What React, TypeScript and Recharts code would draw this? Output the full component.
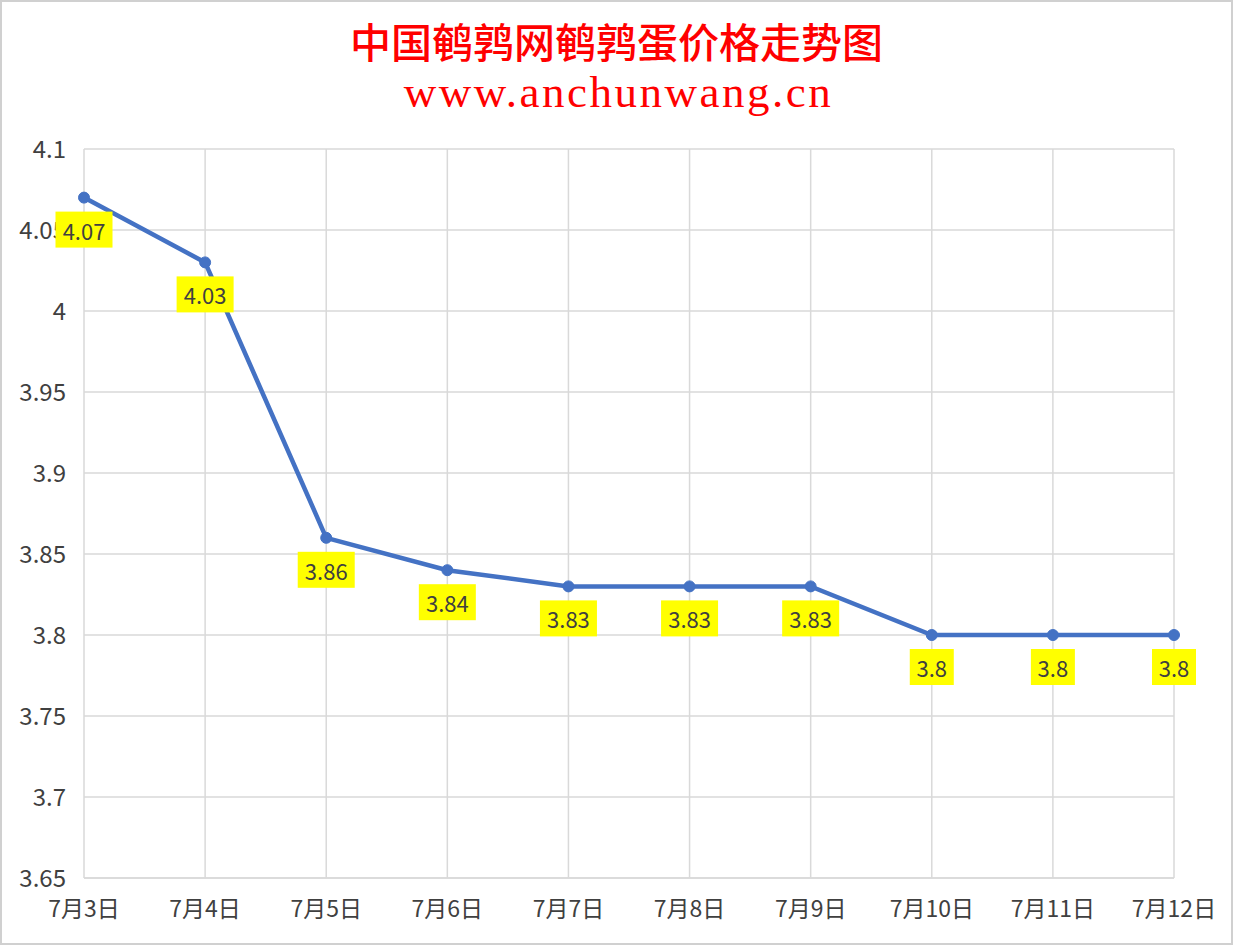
import React from "react";
import { CartesianGrid, Line, LineChart, XAxis, YAxis } from "recharts";

const dates = ["7月3日", "7月4日", "7月5日", "7月6日", "7月7日", "7月8日", "7月9日", "7月10日", "7月11日", "7月12日"];
const prices = [4.07, 4.03, 3.86, 3.84, 3.83, 3.83, 3.83, 3.8, 3.8, 3.8];
const yTicks = [3.65, 3.7, 3.75, 3.8, 3.85, 3.9, 3.95, 4.0, 4.05, 4.1];

const chartTitle = "中国鹌鹑网鹌鹑蛋价格走势图";
const chartSite = "www.anchunwang.cn";

const data = dates.map((date, i) => ({ date, price: prices[i] }));

const fmt = (v: number) => String(Number(v.toFixed(2)));

function PriceLabel(props: any) {
  const { x, y, value } = props;
  const text = fmt(value);
  const w = text.length * 13 + 5;
  return (
    <g>
      <rect x={x - w / 2} y={y + 14} width={w} height={36} fill="#ffff00" />
      <text
        x={x}
        y={y + 32}
        textAnchor="middle"
        dominantBaseline="central"
        fontSize={22}
        fill="#404040"
        fontFamily='"Noto Sans CJK SC", "Noto Sans", sans-serif'
      >
        {text}
      </text>
    </g>
  );
}

export default function App() {
  const font = '"Noto Sans CJK SC", "Noto Sans", sans-serif';
  return (
    <div
      style={{
        position: "absolute",
        left: 0,
        top: 0,
        width: 1233,
        height: 945,
        background: "#fff",
        border: "2px solid #d0d0d0",
        boxSizing: "border-box",
        overflow: "hidden",
      }}
    >
      <div
        style={{
          position: "absolute",
          left: -2,
          top: 22,
          width: 1233,
          textAlign: "center",
          fontSize: 41,
          lineHeight: "41px",
          fontWeight: 500,
          color: "#ff0000",
          fontFamily: '"Liberation Serif", "Noto Sans CJK SC", serif',
        }}
      >
        {chartTitle}
      </div>
      <div
        style={{
          position: "absolute",
          left: 0,
          top: 68,
          width: 1233,
          textAlign: "center",
          fontSize: 45,
          lineHeight: "45px",
          letterSpacing: 2.5,
          color: "#ff0000",
          fontFamily: '"Liberation Serif", serif',
        }}
      >
        {chartSite}
      </div>
      <div style={{ position: "absolute", left: -2, top: -2 }}>
        <LineChart width={1233} height={945} data={data} margin={{ top: 149, right: 59, bottom: 27, left: 14 }}>
          <CartesianGrid stroke="#d9d9d9" strokeWidth={1.5} />
          <XAxis
            dataKey="date"
            axisLine={{ stroke: "#d9d9d9", strokeWidth: 1.5 }}
            tickLine={false}
            tickMargin={17}
            height={40}
            interval={0}
            tick={{ fill: "#404040", fontSize: 23, fontFamily: font }}
          />
          <YAxis
            type="number"
            domain={[3.65, 4.1]}
            ticks={yTicks}
            tickFormatter={fmt}
            width={70}
            axisLine={false}
            tickLine={false}
            tickMargin={12}
            tick={{ fill: "#404040", fontSize: 24, fontFamily: font }}
            allowDataOverflow
          />
          <Line
            type="linear"
            dataKey="price"
            stroke="#4472c4"
            strokeWidth={4.5}
            dot={{ r: 5.5, fill: "#4472c4", stroke: "#4472c4", strokeWidth: 1 }}
            label={<PriceLabel />}
            isAnimationActive={false}
          />
        </LineChart>
      </div>
    </div>
  );
}
